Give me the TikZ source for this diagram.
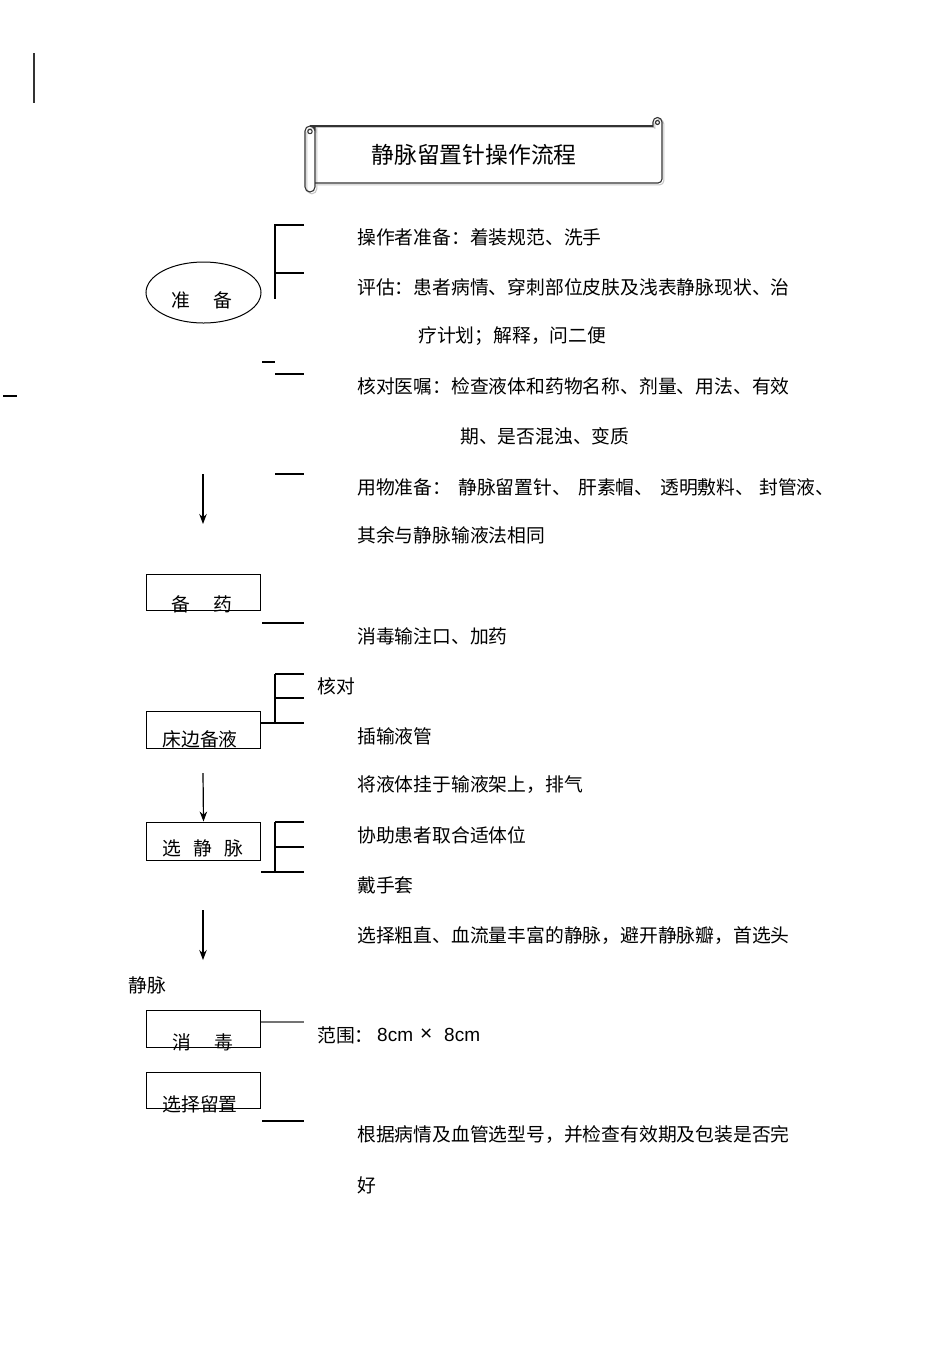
\documentclass[tikz,border=0pt]{standalone}
\usepackage{fontspec}
\setmainfont{Noto Sans CJK SC}
\newfontfamily\latinfont{Liberation Sans}
\usetikzlibrary{arrows.meta,shapes.geometric}
\begin{document}
\begin{tikzpicture}[x=1pt,y=-1pt,
  txt/.style={anchor=west,inner sep=0pt,font=\fontsize{18.8}{22}\selectfont},
  boxlabel/.style={inner sep=0pt,font=\fontsize{18.8}{22}\selectfont},
  flowbox/.style={draw,line width=1pt,minimum width=114pt,minimum height=36pt,inner sep=0pt},
  brk/.style={line width=1.8pt},
  thinline/.style={line width=1.1pt},
  flowarrow/.style={line width=1.2pt,-{Stealth[length=10pt,width=7.5pt]}},
  scroll/.style={line width=1.1pt,draw=black!80,line join=round}]
\useasboundingbox (0,0) rectangle (950,1345);

% stray marks
\draw[line width=1.6pt,black!80] (34,53) -- (34,103);
\draw[thinline] (3,396) -- (17,396);

% title scroll: shadow
\begin{scope}[shift={(1.8,1.8)}]
\draw[scroll,draw=black!22] (310,126) -- (653,126);
\draw[scroll,draw=black!22] (315,183) -- (658,183) arc(90:0:4) -- (662,122) arc(0:-180:4.5) -- (653,127);
\draw[scroll,draw=black!22] (315,126) -- (315,187) arc(0:180:5) -- (305,131) arc(180:360:5);
\end{scope}
% title scroll
\draw[scroll] (310,126) -- (653,126);
\draw[scroll] (315,183) -- (658,183) arc(90:0:4) -- (662,122) arc(0:-180:4.5) -- (653,127);
\draw[scroll] (657.5,122.5) circle (2);
\draw[scroll] (315,126) -- (315,187) arc(0:180:5) -- (305,131) arc(180:360:5);
\draw[scroll] (310,131.5) circle (2.2);
\node[inner sep=0pt,font=\fontsize{22.8}{26}\selectfont] (title) at (474,155) {静脉留置针操作流程};

% preparation ellipse
\node[draw,ellipse,line width=1pt,minimum width=115pt,minimum height=61pt,inner sep=0pt] (zhunbei) at (203.5,292.5) {};
\node[boxlabel] (zhunbeiT) at (202,300) {准\hspace{24pt}备};

% bracket for preparation
\coordinate (b1top) at (275,225);
\coordinate (b1bot) at (275,299);
\draw[brk] (304,225) -- (b1top) -- (b1bot);
\draw[brk] (275,273) -- (304,273);
\draw[thinline] (262,362) -- (275,362);
\draw[thinline] (275,374) -- (304,374);
\draw[line width=2.4pt] (275,474) -- (304,474);

% texts: preparation
\node[txt] (t1) at (357,237) {操作者准备：着装规范、洗手};
\node[txt] (t2) at (357,287) {评估：患者病情、穿刺部位皮肤及浅表静脉现状、治};
\node[txt] (t3) at (418,336) {疗计划；解释，问二便};
\node[txt] (t4) at (357,386) {核对医嘱：检查液体和药物名称、剂量、用法、有效};
\node[txt] (t5) at (460,436) {期、是否混浊、变质};
\node[txt] (t6a) at (357,487) {用物准备：};
\node[txt] (t6b) at (458,487) {静脉留置针、};
\node[txt] (t6c) at (578,487) {肝素帽、};
\node[txt] (t6d) at (660,487) {透明敷料、};
\node[txt] (t6e) at (759,487) {封管液、};
\node[txt] (t7) at (357,535) {其余与静脉输液法相同};

% arrow 1
\coordinate (a1s) at (203,474);
\coordinate (a1e) at (203,524);
\draw[flowarrow] (a1s) -- (a1e);

% 备药
\node[flowbox] (beiyao) at (203.5,592) {};
\node[boxlabel] (beiyaoT) at (202,604) {备\hspace{24pt}药};
\draw[thinline] (262,623) -- (304,623);
\node[txt] (t8) at (357,636) {消毒输注口、加药};

% 床边备液
\node[flowbox,minimum height=37pt] (chuang) at (203.5,729.5) {};
\node[boxlabel] (chuangT) at (200,739) {床边备液};
\draw[thinline] (chuang.east |- 0,723) -- (275,723);
\draw[brk,line width=1.6pt] (275,674) -- (275,723);
\draw[thinline] (275,674) -- (304,674);
\draw[thinline] (275,698) -- (304,698);
\draw[line width=1.4pt] (275,723) -- (304,723);
\node[txt] (t9) at (317,686) {核对};
\node[txt] (t10) at (357,736) {插输液管};
\node[txt] (t11) at (357,785) {将液体挂于输液架上，排气};

% arrow 2
\node[flowbox,minimum height=38pt] (xuan) at (203.5,841) {};
\node[boxlabel] (xuanT) at (203,848) {选\hspace{12pt}静\hspace{12pt}脉};
\coordinate (a2s) at (203,773);
\draw[flowarrow] (a2s) -- (xuan.north);
\draw[brk,line width=1.6pt] (275,822) -- (275,872);
\draw[thinline] (275,822) -- (304,822);
\draw[line width=1.4pt] (275,847) -- (304,847);
\draw[thinline] (261,872) -- (304,872);
\node[txt] (t12) at (357,835) {协助患者取合适体位};
\node[txt] (t13) at (357,885) {戴手套};
\node[txt] (t14) at (357,936) {选择粗直、血流量丰富的静脉，避开静脉瓣，首选头};
\node[txt] (t15) at (128,985) {静脉};

% arrow 3
\coordinate (a3s) at (203,910);
\coordinate (a3e) at (203,960);
\draw[flowarrow] (a3s) -- (a3e);

% 消毒
\node[flowbox,minimum height=37pt] (xiaodu) at (203.5,1028.5) {};
\node[boxlabel] (xiaoduT) at (203,1042) {消\hspace{24pt}毒};
\draw[line width=1.4pt,black!55] (xiaodu.east |- 0,1022) -- (304,1022);
\node[txt] (t16a) at (317,1035) {范围：};
\node[txt,font=\fontsize{19}{22}\latinfont] (t16b) at (377,1035) {8cm};
\node[txt,font=\fontsize{21}{22}\latinfont] (t16c) at (420,1035) {×};
\node[txt,font=\fontsize{19}{22}\latinfont] (t16d) at (444,1035) {8cm};

% 选择留置
\node[flowbox] (liuzhi) at (203.5,1090) {};
\node[boxlabel] (liuzhiT) at (200,1104) {选择留置};
\draw[thinline] (262,1121) -- (304,1121);
\node[txt] (t17) at (357,1135) {根据病情及血管选型号，并检查有效期及包装是否完};
\node[txt] (t18) at (357,1185) {好};
\end{tikzpicture}
\end{document}
